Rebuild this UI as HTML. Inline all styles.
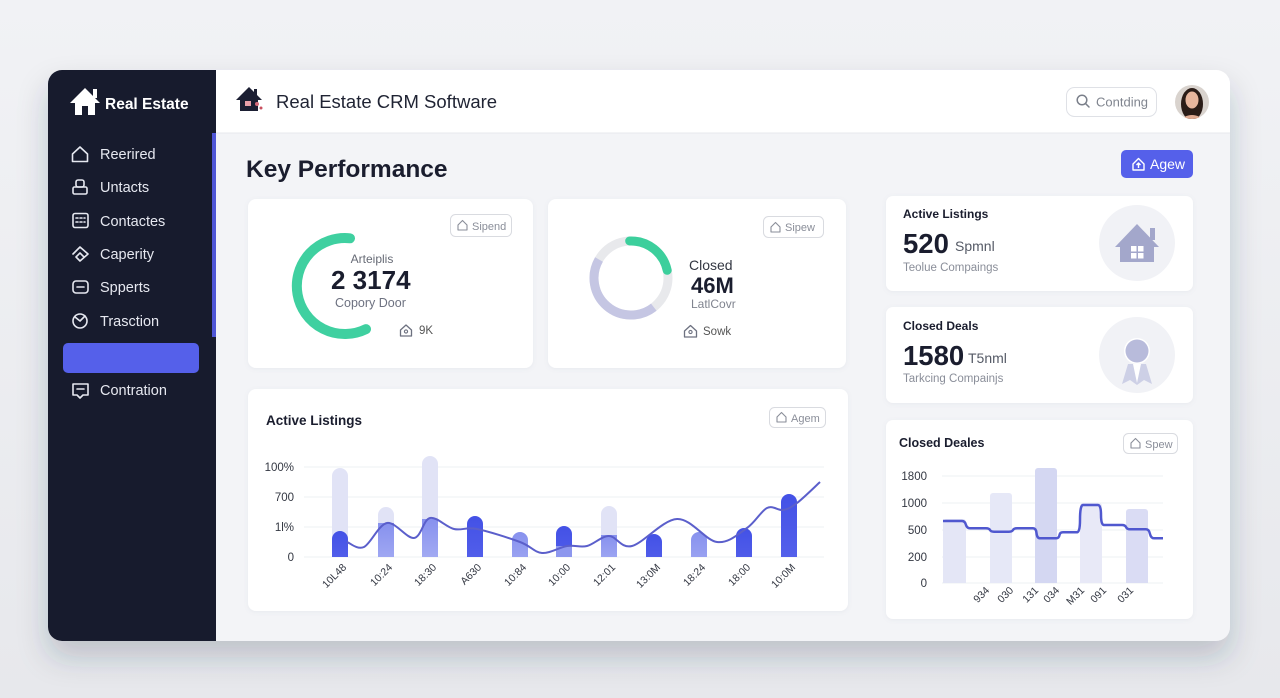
<!DOCTYPE html>
<html><head><meta charset="utf-8">
<style>
*{margin:0;padding:0;box-sizing:border-box}
html,body{width:1280px;height:698px;overflow:hidden;background:#edeef2}
svg{display:block;font-family:"Liberation Sans",sans-serif}
</style></head><body>
<svg width="1280" height="698" viewBox="0 0 1280 698" xmlns="http://www.w3.org/2000/svg">
<defs>
  <linearGradient id="bg" x1="0" y1="0" x2="0" y2="1"><stop offset="0" stop-color="#f1f2f5"/><stop offset="1" stop-color="#e7e8ec"/></linearGradient>
  <filter id="sh" x="-10%" y="-10%" width="120%" height="140%"><feDropShadow dx="0" dy="16" stdDeviation="15" flood-color="#2a3050" flood-opacity="0.22"/></filter>
  <filter id="cs" x="-5%" y="-5%" width="110%" height="115%"><feDropShadow dx="0" dy="1" stdDeviation="2" flood-color="#7880a0" flood-opacity="0.10"/></filter>
  <clipPath id="cl"><rect x="48" y="70" width="1182" height="571" rx="14"/></clipPath>
  <clipPath id="bc"><rect x="300" y="430" width="530" height="127"/></clipPath>
  <clipPath id="rc"><rect x="930" y="455" width="240" height="128"/></clipPath>
  <clipPath id="av"><circle cx="1192" cy="102" r="17"/></clipPath>
  <linearGradient id="dk" x1="0" y1="0" x2="0" y2="1"><stop offset="0" stop-color="#4351e6"/><stop offset="1" stop-color="#5864ec"/></linearGradient>
  <linearGradient id="md" x1="0" y1="0" x2="0" y2="1"><stop offset="0" stop-color="#8791ee"/><stop offset="1" stop-color="#a3abf3"/></linearGradient>
</defs>

<rect width="1280" height="698" fill="url(#bg)"/>
<rect x="48" y="70" width="1182" height="571" rx="14" fill="#f3f4f7" filter="url(#sh)"/>
<g clip-path="url(#cl)">
  <rect x="48" y="70" width="168" height="571" fill="#171b2d"/>
  <rect x="216" y="70" width="1014" height="63" fill="#ffffff"/>
  <line x1="216" y1="133" x2="1230" y2="133" stroke="#e7e9ee" stroke-width="1"/>
  <rect x="212" y="133" width="4" height="204" fill="#4f56d6"/>
</g>

<!-- Sidebar -->
<g fill="#ffffff">
  <polygon points="70,103 85,88 100,103"/>
  <rect x="93" y="89" width="4" height="9"/>
  <rect x="75" y="100" width="20" height="15"/>
  <rect x="82" y="106" width="6" height="9" fill="#171b2d"/>
</g>
<text x="105" y="109" font-size="15.5" font-weight="bold" fill="#ffffff">Real Estate</text>

<g fill="none" stroke="#e6e8f0" stroke-width="1.6" stroke-linejoin="round" stroke-linecap="round">
  <path d="M72.5 154 L80 147 L87.5 154 V161.5 H72.5 Z"/>
  <rect x="76" y="180" width="8" height="7" rx="2"/>
  <rect x="73" y="187" width="14" height="7" rx="1.5"/>
  <rect x="73" y="213.5" width="15" height="14" rx="2"/>
  <path d="M76 218h2M80 218h2M84 218h1M76 222h2M80 222h2M84 222h1"/>
  <path d="M73 254 L80 247 L88 254 L80 261 L76 257 L80 253 L84 257"/>
  <rect x="73" y="281" width="15" height="12" rx="3"/>
  <path d="M77 287h7"/>
  <circle cx="80" cy="321" r="7"/>
  <path d="M75 317 L80 321 L85 316"/>
  <path d="M73 384 H88 V395 H83 L80 398 L77 395 H73 Z"/>
  <path d="M77 389h7"/>
</g>
<g font-size="14.5" fill="#e6e8f0">
  <text x="100" y="159">Reerired</text>
  <text x="100" y="192">Untacts</text>
  <text x="100" y="226">Contactes</text>
  <text x="100" y="259">Caperity</text>
  <text x="100" y="292">Spperts</text>
  <text x="100" y="326">Trasction</text>
  <text x="100" y="395">Contration</text>
</g>
<rect x="63" y="343" width="136" height="30" rx="5" fill="#5560ea"/>

<!-- Header -->
<g fill="#1c1f33">
  <polygon points="236,100 249,87 262,100"/>
  <rect x="240" y="98" width="18" height="13"/>
  <rect x="254" y="89" width="3" height="7"/>
</g>
<rect x="245" y="101" width="6" height="5" fill="#e9a0aa"/>
<circle cx="257" cy="104" r="2" fill="#d66b7b"/>
<circle cx="261" cy="108" r="1.5" fill="#c9505f"/>
<text x="276" y="108" font-size="18.5" fill="#1f2333">Real Estate CRM Software</text>

<rect x="1066.5" y="87.5" width="90" height="29" rx="8" fill="#ffffff" stroke="#dfe1e6"/>
<circle cx="1082" cy="100" r="4.8" fill="none" stroke="#7a7f8a" stroke-width="1.5"/>
<line x1="1085.5" y1="103.5" x2="1089" y2="107" stroke="#7a7f8a" stroke-width="1.5" stroke-linecap="round"/>
<text x="1096" y="106.5" font-size="13" fill="#80858f">Contding</text>

<g clip-path="url(#av)">
  <rect x="1175" y="85" width="34" height="34" fill="#d9d3ce"/>
  <ellipse cx="1192" cy="104" rx="11" ry="16" fill="#2a1c17"/>
  <ellipse cx="1192" cy="100" rx="6.5" ry="8.5" fill="#e7b69d"/>
  <ellipse cx="1192" cy="121" rx="10" ry="6" fill="#e0ab92"/>
</g>

<text x="246" y="177" font-size="24.5" font-weight="bold" fill="#1a1d2e">Key Performance</text>

<rect x="1121" y="150" width="72" height="28" rx="5" fill="#5560ea"/>
<g fill="none" stroke="#ffffff" stroke-width="1.4" stroke-linejoin="round">
  <path d="M1133 164 L1138.5 158.5 L1144 164 V170 H1133 Z"/>
  <path d="M1138.5 168 V163 M1136.5 165 L1138.5 163 L1140.5 165"/>
</g>
<text x="1150" y="169" font-size="14" fill="#ffffff">Agew</text>

<!-- Cards -->
<g fill="#ffffff" filter="url(#cs)">
  <rect x="248" y="199" width="285" height="169" rx="8"/>
  <rect x="548" y="199" width="298" height="169" rx="8"/>
  <rect x="886" y="196" width="307" height="95" rx="7"/>
  <rect x="886" y="307" width="307" height="96" rx="7"/>
  <rect x="248" y="389" width="600" height="222" rx="8"/>
  <rect x="886" y="420" width="307" height="199" rx="7"/>
</g>

<!-- small buttons -->
<g fill="#ffffff" stroke="#d9dbe0">
  <rect x="450.5" y="214.5" width="61" height="22" rx="5"/>
  <rect x="763.5" y="216.5" width="60" height="21" rx="5"/>
  <rect x="769.5" y="407.5" width="56" height="20" rx="5"/>
  <rect x="1123.5" y="433.5" width="54" height="20" rx="5"/>
</g>
<g fill="none" stroke="#8a8e99" stroke-width="1.1" stroke-linejoin="round">
  <path d="M458 225 L462.5 220.5 L467 225 V230 H458 Z"/>
  <path d="M771 227 L775.5 222.5 L780 227 V232 H771 Z"/>
  <path d="M777 417 L781.5 412.5 L786 417 V422 H777 Z"/>
  <path d="M1131 443 L1135.5 438.5 L1140 443 V448 H1131 Z"/>
</g>
<g font-size="11" fill="#8a8e99">
  <text x="472" y="230">Sipend</text>
  <text x="785" y="231">Sipew</text>
  <text x="791" y="422">Agem</text>
  <text x="1145" y="448">Spew</text>
</g>

<!-- Donut 1 -->
<path d="M350 238.3 A48 48 0 1 0 366 329.1" fill="none" stroke="#3fd0a0" stroke-width="10" stroke-linecap="round"/>
<text x="372" y="263" font-size="12" fill="#666a75" text-anchor="middle">Arteiplis</text>
<text x="331" y="289" font-size="26" font-weight="bold" fill="#1a1d2e">2 3174</text>
<text x="335" y="307" font-size="12.5" fill="#6d7180">Copory Door</text>
<path d="M400.5 330 L406 325 L411.5 330 V336 H400.5 Z" fill="none" stroke="#6d7180" stroke-width="1.3" stroke-linejoin="round"/>
<circle cx="406" cy="331.5" r="1.6" fill="none" stroke="#6d7180" stroke-width="1.1"/>
<text x="419" y="334" font-size="11.5" fill="#555">9K</text>

<!-- Donut 2 -->
<circle cx="631" cy="278" r="37" fill="none" stroke="#e8e9ec" stroke-width="9"/>
<path d="M653.8 307.2 A37 37 0 0 1 599 259.5" fill="none" stroke="#c5c6e3" stroke-width="9"/>
<path d="M629.7 241 A37 37 0 0 1 667.2 270.3" fill="none" stroke="#3ccf9c" stroke-width="9" stroke-linecap="round"/>
<text x="689" y="270" font-size="14" fill="#333742">Closed</text>
<text x="691" y="293" font-size="22" font-weight="bold" fill="#1a1d2e">46M</text>
<text x="691" y="308" font-size="12" fill="#80848f">LatlCovr</text>
<path d="M684.5 331 L690.5 325.5 L696.5 331 V337 H684.5 Z" fill="none" stroke="#6d7180" stroke-width="1.3" stroke-linejoin="round"/>
<circle cx="690.5" cy="332" r="1.6" fill="none" stroke="#6d7180" stroke-width="1.1"/>
<text x="703" y="335" font-size="11.5" fill="#555">Sowk</text>

<!-- Card 3 -->
<text x="903" y="218" font-size="12" font-weight="bold" fill="#1a1d2e">Active Listings</text>
<text x="903" y="253" font-size="27.5" font-weight="bold" fill="#1a1d2e">520</text>
<text x="955" y="251" font-size="14" fill="#555a66">Spmnl</text>
<text x="903" y="271" font-size="11.5" fill="#8a8e99">Teolue Compaings</text>
<circle cx="1137" cy="243" r="38" fill="#f1f2f6"/>
<g fill="#a3a7cb">
  <polygon points="1115,247 1137,224 1159,247"/>
  <rect x="1150" y="228" width="5" height="12"/>
  <rect x="1120" y="244" width="34" height="18"/>
</g>
<g fill="#ffffff">
  <rect x="1131" y="246" width="5.5" height="5.5"/><rect x="1138" y="246" width="5.5" height="5.5"/>
  <rect x="1131" y="253" width="5.5" height="5.5"/><rect x="1138" y="253" width="5.5" height="5.5"/>
</g>

<!-- Card 4 -->
<text x="903" y="330" font-size="12" font-weight="bold" fill="#1a1d2e">Closed Deals</text>
<text x="903" y="365" font-size="27.5" font-weight="bold" fill="#1a1d2e">1580</text>
<text x="968" y="363" font-size="14" fill="#555a66">T5nml</text>
<text x="903" y="382" font-size="11.5" fill="#8a8e99">Tarkcing Compainjs</text>
<circle cx="1137" cy="355" r="38" fill="#f1f2f6"/>
<path d="M1122 384 L1128 364 L1146 364 L1152 384 L1144 380 L1137 385 L1130 380 Z" fill="#cdd0e6"/>
<path d="M1133 364 L1137 383 L1141 364 Z" fill="#ffffff"/>
<circle cx="1137" cy="351" r="13" fill="#ffffff"/>
<circle cx="1137" cy="351" r="11.5" fill="#b8bbdb"/>

<!-- Bar chart card -->
<text x="266" y="425" font-size="13.5" font-weight="bold" fill="#1a1d2e">Active Listings</text>
<g stroke="#eef0f3" stroke-width="1">
  <line x1="304" y1="467" x2="824" y2="467"/>
  <line x1="304" y1="497" x2="824" y2="497"/>
  <line x1="304" y1="527" x2="824" y2="527"/>
  <line x1="304" y1="557" x2="824" y2="557"/>
</g>
<g font-size="11.5" fill="#333742" text-anchor="end">
  <text x="294" y="471">100%</text>
  <text x="294" y="501">700</text>
  <text x="294" y="531">1l%</text>
  <text x="294" y="561">0</text>
</g>
<g clip-path="url(#bc)">
  <g fill="#e1e3f6">
    <rect x="332" y="468" width="16" height="110" rx="8"/>
    <rect x="378" y="507" width="16" height="80" rx="8"/>
    <rect x="422" y="456" width="16" height="120" rx="8"/>
    <rect x="601" y="506" width="16" height="80" rx="8"/>
  </g>
  <g fill="url(#md)">
    <rect x="378" y="523" width="16" height="40"/>
    <rect x="422" y="519" width="16" height="40"/>
    <rect x="512" y="532" width="16" height="40" rx="8"/>
    <rect x="601" y="535" width="16" height="30"/>
    <rect x="691" y="532" width="16" height="40" rx="8"/>
  </g>
  <g fill="url(#dk)">
    <rect x="332" y="531" width="16" height="40" rx="8"/>
    <rect x="467" y="516" width="16" height="60" rx="8"/>
    <rect x="556" y="526" width="16" height="50" rx="8"/>
    <rect x="646" y="534" width="16" height="40" rx="8"/>
    <rect x="736" y="528" width="16" height="50" rx="8"/>
    <rect x="781" y="494" width="16" height="80" rx="8"/>
  </g>
  <rect x="556" y="546" width="16" height="15" fill="#8d97ee"/>
</g>
<path d="M347 542 C349.8 542.8 357.3 550.2 364 547 C370.7 543.8 378.7 524.5 387 523 C395.3 521.5 406.8 538.8 414 538 C421.2 537.2 423.3 519.5 430 518 C436.7 516.5 446.2 527.2 454 529 C461.8 530.8 466 526.8 477 529 C488 531.2 509.2 538 520 542 C530.8 546 534.2 552.3 542 553 C549.8 553.7 559.5 547.2 567 546 C574.5 544.8 580 547.7 587 546 C594 544.3 601.5 536 609 536 C616.5 536 620.7 548.8 632 546 C643.3 543.2 662.8 519.7 677 519 C691.2 518.3 705.3 540.5 717 542 C728.7 543.5 738.7 533.7 747 528 C755.3 522.3 761 511 767 508 C773 505 778 510.8 783 510 C788 509.2 790.8 507.7 797 503 C803.2 498.3 816.2 485.5 820 482" fill="none" stroke="#5b5fcb" stroke-width="2"/>
<g font-size="10.5" fill="#333742" text-anchor="end">
  <text transform="translate(347,568) rotate(-45)">10L48</text>
  <text transform="translate(393,568) rotate(-45)">10:24</text>
  <text transform="translate(437,568) rotate(-45)">18:30</text>
  <text transform="translate(482,568) rotate(-45)">A630</text>
  <text transform="translate(527,568) rotate(-45)">10:84</text>
  <text transform="translate(571,568) rotate(-45)">10:00</text>
  <text transform="translate(616,568) rotate(-45)">12:01</text>
  <text transform="translate(661,568) rotate(-45)">13:0M</text>
  <text transform="translate(706,568) rotate(-45)">18:24</text>
  <text transform="translate(751,568) rotate(-45)">18:00</text>
  <text transform="translate(796,568) rotate(-45)">10:0M</text>
</g>

<!-- Right chart card -->
<text x="899" y="447" font-size="12.5" font-weight="bold" fill="#1a1d2e">Closed Deales</text>
<g stroke="#eef0f3" stroke-width="1">
  <line x1="942" y1="476" x2="1163" y2="476"/>
  <line x1="942" y1="503" x2="1163" y2="503"/>
  <line x1="942" y1="530" x2="1163" y2="530"/>
  <line x1="942" y1="557" x2="1163" y2="557"/>
  <line x1="942" y1="583" x2="1163" y2="583"/>
</g>
<g font-size="11.5" fill="#333742" text-anchor="end">
  <text x="927" y="480">1800</text>
  <text x="927" y="507">1000</text>
  <text x="927" y="534">500</text>
  <text x="927" y="561">200</text>
  <text x="927" y="587">0</text>
</g>
<g clip-path="url(#rc)">
  <rect x="943" y="519" width="23" height="70" rx="3" fill="#e4e6f6"/>
  <rect x="990" y="493" width="22" height="95" rx="3" fill="#e6e8f7"/>
  <rect x="1035" y="468" width="22" height="120" rx="3" fill="#d4d7f2"/>
  <rect x="1080" y="503" width="22" height="85" rx="3" fill="#e8e9f7"/>
  <rect x="1126" y="509" width="22" height="80" rx="3" fill="#dadcf4"/>
</g>
<path d="M943 521 H962 Q965 521 966 525 Q967 528.3 970 528.3 H986 Q989 528.3 990 530 Q991 531.7 994 531.7 H1009 Q1012 531.7 1013 530 Q1014 528.3 1017 528.3 H1033 Q1036 528.3 1036.5 533 Q1037 538.3 1040 538.3 H1056 Q1059 538.3 1059.5 535 Q1060 532.3 1063 532.3 H1077 Q1080 532.3 1080 520 Q1080 505 1083 505 H1098 Q1101 505 1101 515 Q1101 525 1104 525 H1122 Q1125 525 1126 527 Q1127 529.3 1130 529.3 H1146 Q1149 529.3 1150 534 Q1151 538.3 1154 538.3 H1163" fill="none" stroke="#5058cf" stroke-width="2.5"/>
<g font-size="10.5" fill="#333742" text-anchor="end">
  <text transform="translate(990,591) rotate(-45)">934</text>
  <text transform="translate(1014,591) rotate(-45)">030</text>
  <text transform="translate(1039,591) rotate(-45)">131</text>
  <text transform="translate(1060,591) rotate(-45)">034</text>
  <text transform="translate(1085,591) rotate(-45)">M31</text>
  <text transform="translate(1107,591) rotate(-45)">091</text>
  <text transform="translate(1134,591) rotate(-45)">031</text>
</g>
</svg>
</body></html>
